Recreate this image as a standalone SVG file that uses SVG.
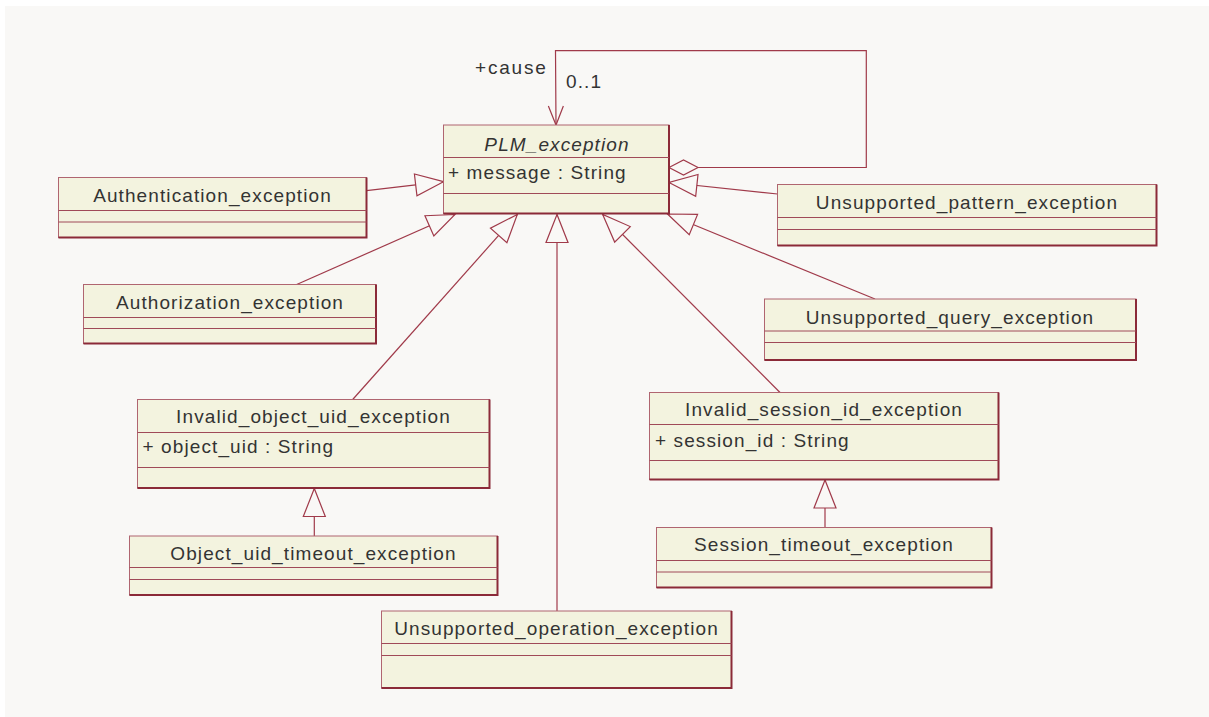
<svg xmlns="http://www.w3.org/2000/svg" width="1209" height="717" viewBox="0 0 1209 717">
<style>
.bg{fill:#f9f8f6}
.box{fill:#f3f3df;stroke:#b06570;stroke-width:1}
.shade{fill:none;stroke:#8b2a38;stroke-width:2}
.div{stroke:#a04a58;stroke-width:1}
.t{font-family:"Liberation Sans",Arial,sans-serif;font-size:19px;fill:#333333;letter-spacing:1.1px}
.c{text-anchor:middle}
.it{font-style:italic}
.con{fill:none;stroke:#a03a4a;stroke-width:1.2}
</style>
<defs>
<marker id="tri" markerUnits="userSpaceOnUse" orient="auto" refX="0" refY="0" markerWidth="40" markerHeight="40" overflow="visible">
<path d="M0,0 L-28,-11 L-28,11 Z" fill="#f9f8f6" stroke="#a03a4a" stroke-width="1.2"/>
</marker>
<marker id="open" markerUnits="userSpaceOnUse" orient="auto" refX="0" refY="0" markerWidth="40" markerHeight="40" overflow="visible">
<path d="M-19,-7.5 L0,0 L-19,7.5" fill="none" stroke="#a03a4a" stroke-width="1.2"/>
</marker>
<marker id="dia" markerUnits="userSpaceOnUse" orient="auto" refX="0" refY="0" markerWidth="40" markerHeight="40" overflow="visible">
<path d="M0,0 L14.5,-7.5 L29,0 L14.5,7.5 Z" fill="#f9f8f6" stroke="#a03a4a" stroke-width="1.2"/>
</marker>
</defs>
<rect class="bg" x="5" y="6" width="1204" height="711"/>

<g id="connectors">
<path class="con" d="M669,167.5 L866.3,167.5 L866.3,50.7 L555.5,50.7 L556,125" marker-start="url(#dia)" marker-end="url(#open)"/>
<path class="con" d="M366.5,190.7 L443.5,181.7" marker-end="url(#tri)"/>
<path class="con" d="M296.7,284.5 L455,214.5" marker-end="url(#tri)"/>
<path class="con" d="M352.7,399.5 L517.3,214.5" marker-end="url(#tri)"/>
<path class="con" d="M557,611 L557,214.5" marker-end="url(#tri)"/>
<path class="con" d="M780,392.5 L602.7,214.5" marker-end="url(#tri)"/>
<path class="con" d="M875,299 L667.5,214" marker-end="url(#tri)"/>
<path class="con" d="M777.5,194 L669,182.5" marker-end="url(#tri)"/>
<path class="con" d="M314.3,536 L314.3,488.5" marker-end="url(#tri)"/>
<path class="con" d="M825,527.5 L825,480" marker-end="url(#tri)"/>
<text class="t" x="475" y="74.3" style="letter-spacing:1.8px">+cause</text>
<text class="t" x="566" y="88.3">0..1</text>
</g>

<g id="PLM_exception">
<rect class="box" x="443.5" y="125" width="225.5" height="88.5"/>
<polyline class="shade" points="443.5,213.5 669,213.5 669,125"/>
<line class="div" x1="443.5" y1="157.5" x2="669" y2="157.5"/>
<line class="div" x1="443.5" y1="193.5" x2="669" y2="193.5"/>
<text class="t c it" x="557" y="150.7">PLM_exception</text>
<text class="t" x="448" y="179.3">+ message : String</text>
</g>

<g id="Authentication_exception">
<rect class="box" x="58.5" y="177.5" width="308" height="60"/>
<polyline class="shade" points="58.5,237.5 366.5,237.5 366.5,177.5"/>
<line class="div" x1="58.5" y1="210.5" x2="366.5" y2="210.5"/>
<line class="div" x1="58.5" y1="222" x2="366.5" y2="222"/>
<text class="t c" x="212.5" y="201.7">Authentication_exception</text>
</g>

<g id="Authorization_exception">
<rect class="box" x="83.5" y="284.5" width="292.5" height="59"/>
<polyline class="shade" points="83.5,343.5 376,343.5 376,284.5"/>
<line class="div" x1="83.5" y1="317.5" x2="376" y2="317.5"/>
<line class="div" x1="83.5" y1="328.5" x2="376" y2="328.5"/>
<text class="t c" x="230" y="309.3">Authorization_exception</text>
</g>

<g id="Unsupported_pattern_exception">
<rect class="box" x="777.5" y="184.5" width="379" height="61"/>
<polyline class="shade" points="777.5,245.5 1156.5,245.5 1156.5,184.5"/>
<line class="div" x1="777.5" y1="217.5" x2="1156.5" y2="217.5"/>
<line class="div" x1="777.5" y1="229.5" x2="1156.5" y2="229.5"/>
<text class="t c" x="967" y="209.3">Unsupported_pattern_exception</text>
</g>

<g id="Unsupported_query_exception">
<rect class="box" x="764.5" y="299" width="371.5" height="61"/>
<polyline class="shade" points="764.5,360 1136,360 1136,299"/>
<line class="div" x1="764.5" y1="331" x2="1136" y2="331"/>
<line class="div" x1="764.5" y1="342.5" x2="1136" y2="342.5"/>
<text class="t c" x="950" y="324">Unsupported_query_exception</text>
</g>

<g id="Invalid_object_uid_exception">
<rect class="box" x="137.5" y="399.5" width="352" height="88.5"/>
<polyline class="shade" points="137.5,488 489.5,488 489.5,399.5"/>
<line class="div" x1="137.5" y1="432.5" x2="489.5" y2="432.5"/>
<line class="div" x1="137.5" y1="467.5" x2="489.5" y2="467.5"/>
<text class="t c" x="313.5" y="423.3">Invalid_object_uid_exception</text>
<text class="t" x="142.5" y="453.3">+ object_uid : String</text>
</g>

<g id="Object_uid_timeout_exception">
<rect class="box" x="129.5" y="536" width="368" height="59"/>
<polyline class="shade" points="129.5,595 497.5,595 497.5,536"/>
<line class="div" x1="129.5" y1="567.5" x2="497.5" y2="567.5"/>
<line class="div" x1="129.5" y1="579.5" x2="497.5" y2="579.5"/>
<text class="t c" x="313.5" y="560">Object_uid_timeout_exception</text>
</g>

<g id="Invalid_session_id_exception">
<rect class="box" x="649.5" y="392.5" width="349" height="87"/>
<polyline class="shade" points="649.5,479.5 998.5,479.5 998.5,392.5"/>
<line class="div" x1="649.5" y1="424.5" x2="998.5" y2="424.5"/>
<line class="div" x1="649.5" y1="460.5" x2="998.5" y2="460.5"/>
<text class="t c" x="824" y="416">Invalid_session_id_exception</text>
<text class="t" x="655" y="446.7">+ session_id : String</text>
</g>

<g id="Session_timeout_exception">
<rect class="box" x="656.5" y="527.5" width="335" height="60"/>
<polyline class="shade" points="656.5,587.5 991.5,587.5 991.5,527.5"/>
<line class="div" x1="656.5" y1="560.5" x2="991.5" y2="560.5"/>
<line class="div" x1="656.5" y1="572" x2="991.5" y2="572"/>
<text class="t c" x="824" y="550.7">Session_timeout_exception</text>
</g>

<g id="Unsupported_operation_exception">
<rect class="box" x="381.5" y="611" width="350" height="77"/>
<polyline class="shade" points="381.5,688 731.5,688 731.5,611"/>
<line class="div" x1="381.5" y1="643.5" x2="731.5" y2="643.5"/>
<line class="div" x1="381.5" y1="655.5" x2="731.5" y2="655.5"/>
<text class="t c" x="556.5" y="635">Unsupported_operation_exception</text>
</g>
</svg>
